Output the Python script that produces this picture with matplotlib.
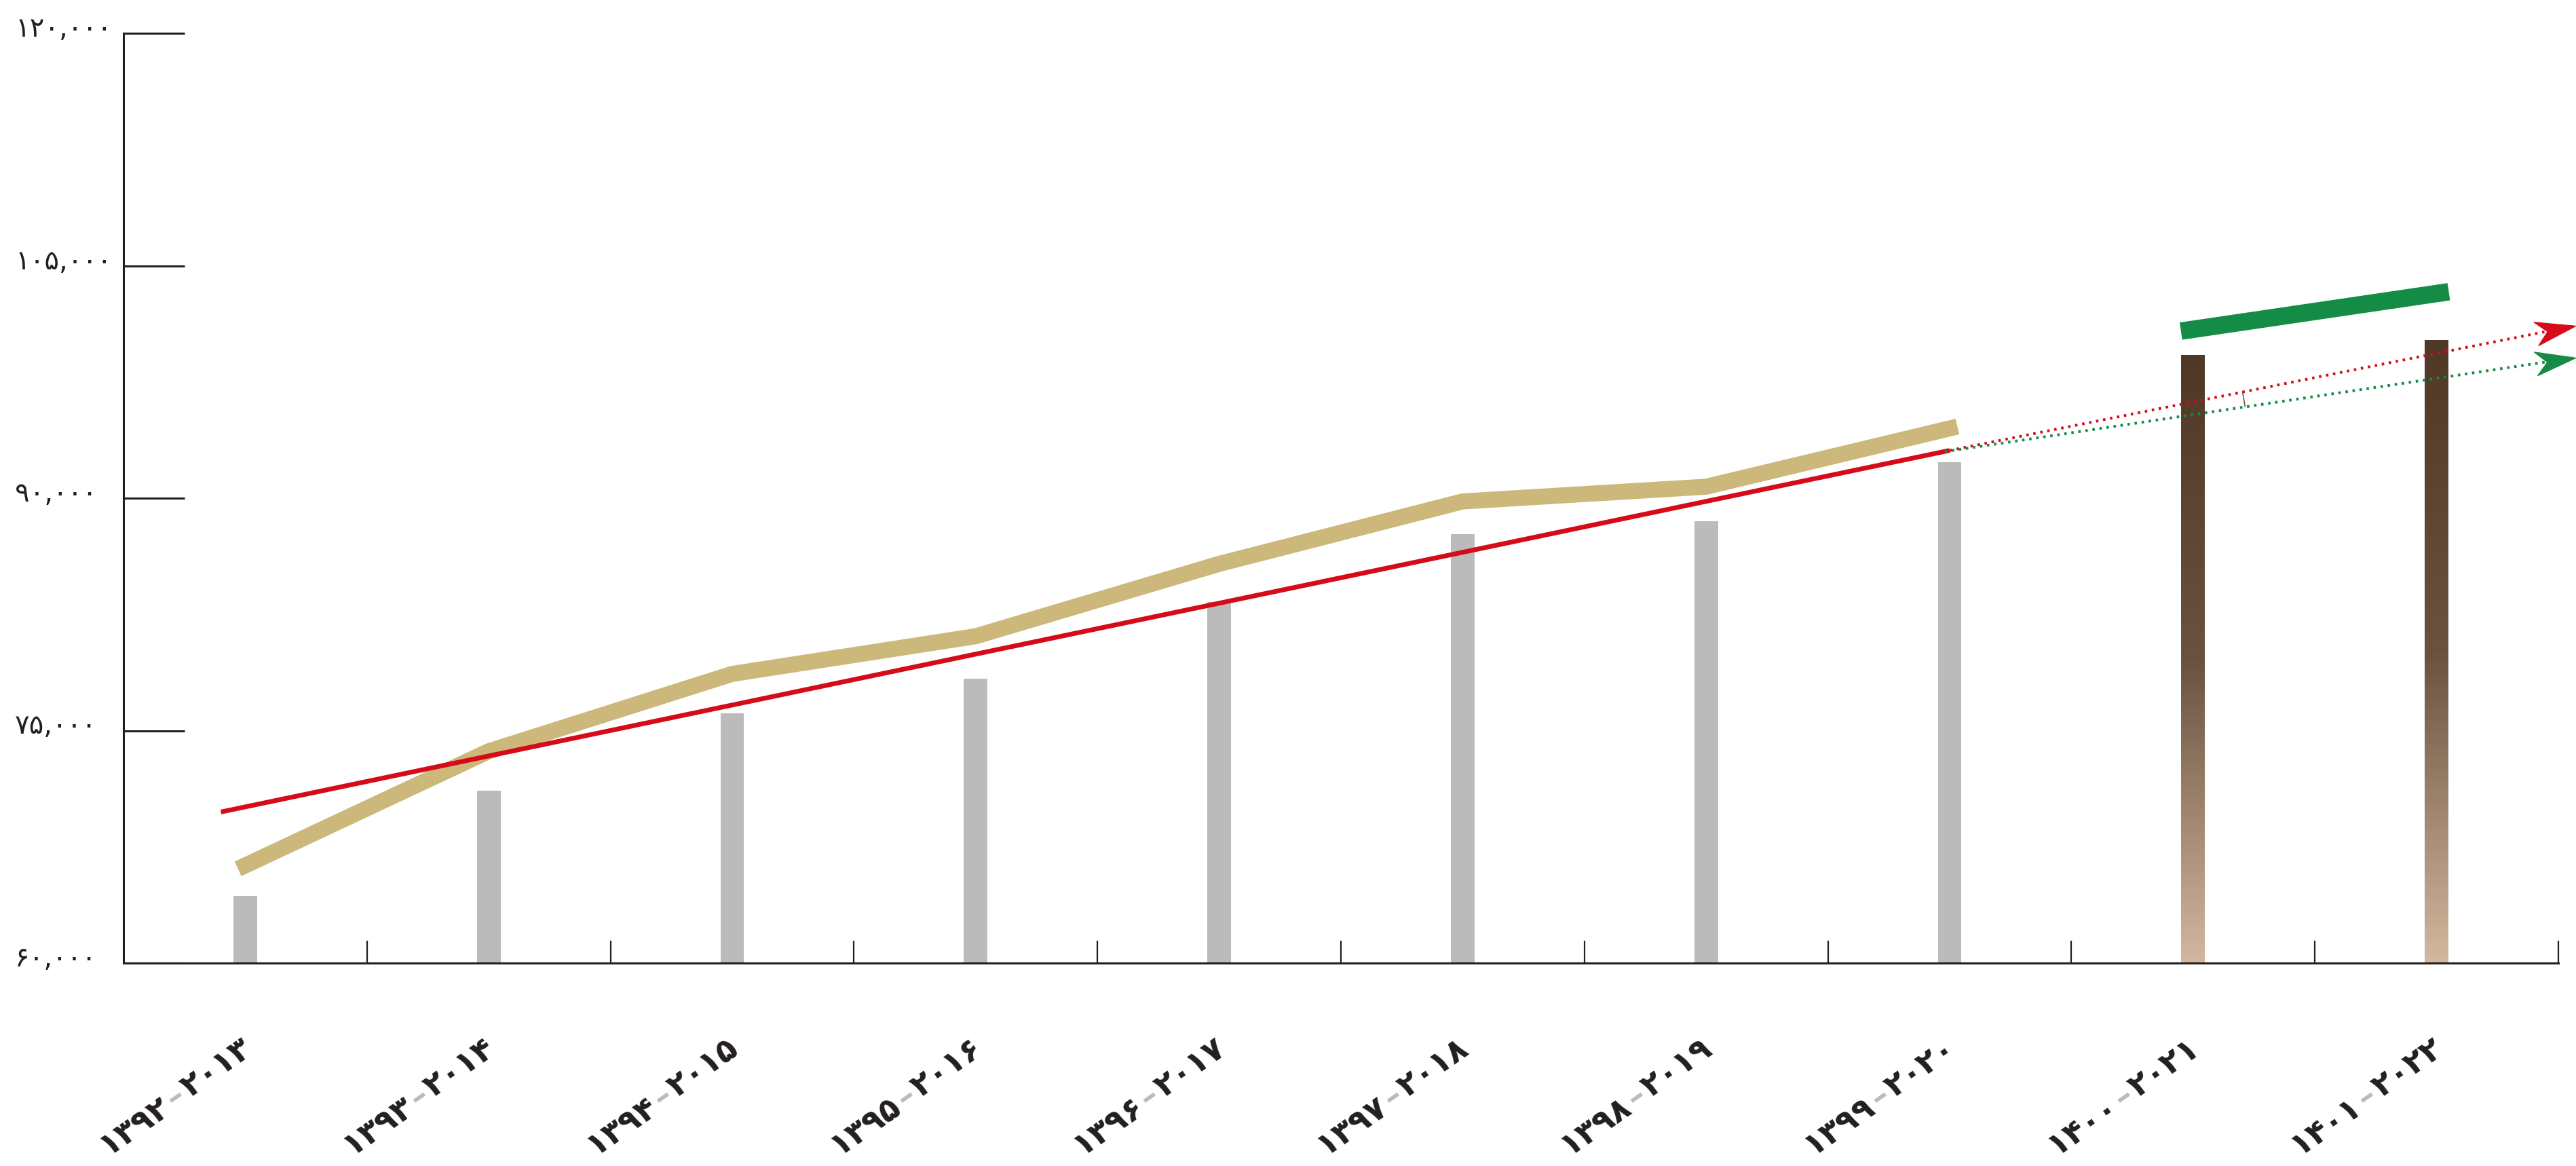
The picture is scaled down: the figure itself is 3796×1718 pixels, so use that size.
import numpy as np
import matplotlib
matplotlib.use('Agg')
import matplotlib.pyplot as plt
import matplotlib.transforms as mtransforms
from matplotlib.colors import LinearSegmentedColormap
from matplotlib.markers import MarkerStyle
from matplotlib.path import Path

plt.rcParams['font.family'] = ['DejaVu Sans']

# --- data ---
years_fa = ['۱۳۹۲', '۱۳۹۳', '۱۳۹۴', '۱۳۹۵', '۱۳۹۶', '۱۳۹۷', '۱۳۹۸', '۱۳۹۹', '۱۴۰۰', '۱۴۰۱']
years_en = ['۲۰۱۳', '۲۰۱۴', '۲۰۱۵', '۲۰۱۶', '۲۰۱۷', '۲۰۱۸', '۲۰۱۹', '۲۰۲۰', '۲۰۲۱', '۲۰۲۲']
actual = [64350, 71130, 76110, 78340, 83320, 87670, 88510, 92300]
forecast = [99200, 100200]
tan_line = [66300, 73670, 78660, 81090, 85760, 89790, 90740, 94500]
trend_x = [-0.1, 7.0]
trend_y = [69750, 93080]
red_proj_x = [7.0, 9.57]
red_proj_y = [93080, 101130]
green_proj_x = [6.98, 9.57]
green_proj_y = [93000, 99070]
band_x = [7.95, 9.05]
band_y = [100780, 103320]
yticks = [60000, 75000, 90000, 105000, 120000]
ytick_labels = ['۶۰,۰۰۰', '۷۵,۰۰۰', '۹۰,۰۰۰', '۱۰۵,۰۰۰', '۱۲۰,۰۰۰']

RED = '#d50b1a'
GREEN = '#148c45'
TAN = '#cbb87a'
GRAY = '#bbbbbb'
INK = '#231f20'

W, H = 3796, 1718
fig = plt.figure(figsize=(W / 100, H / 100), dpi=100)
ax = fig.add_axes([182 / W, 299 / H, 3588 / W, 1370 / H])

bar_w = 0.0975
x_act = np.arange(len(actual))
x_fc = np.arange(len(actual), len(actual) + len(forecast))

ax.bar(x_act, actual, width=bar_w, color=GRAY, zorder=2)

# forecast bars with vertical brown gradient
cmap = LinearSegmentedColormap.from_list('brown', ['#d3b79e', '#6a523f', '#4f3826'])
grad = np.linspace(0, 1, 256).reshape(-1, 1)
for xf, v in zip(x_fc, forecast):
    ax.imshow(grad, extent=[xf - bar_w / 2, xf + bar_w / 2, 60000, v], origin='lower',
              aspect='auto', cmap=cmap, zorder=2, interpolation='bilinear')

ax.plot(x_act, tan_line, color=TAN, lw=17, solid_capstyle='projecting', solid_joinstyle='miter', zorder=3)
ax.plot(trend_x, trend_y, color=RED, lw=5, solid_capstyle='butt', zorder=4)
ax.plot(band_x, band_y, color=GREEN, lw=18.5, solid_capstyle='butt', zorder=4)
ax.plot(red_proj_x, red_proj_y, color=RED, lw=2.9, ls=(0, (0.9, 1.7)), clip_on=False, zorder=5)
ax.plot(green_proj_x, green_proj_y, color=GREEN, lw=2.9, ls=(0, (0.9, 1.7)), clip_on=False, zorder=5)

ax.set_xlim(-0.5, 9.5)
ax.set_ylim(60000, 120000)

for s in ['top', 'right']:
    ax.spines[s].set_visible(False)
for s in ['left', 'bottom']:
    ax.spines[s].set_color(INK)
    ax.spines[s].set_linewidth(2.2)

ax.set_yticks(yticks)
ax.set_yticklabels(ytick_labels, fontsize=29, ha='left', va='baseline', color=INK)
ax.tick_params(axis='y', direction='in', length=65, width=2.2, pad=115, color=INK)
shift = mtransforms.ScaledTranslation(0, -5 / 100, fig.dpi_scale_trans)
for lab in ax.get_yticklabels():
    lab.set_transform(lab.get_transform() + shift)
ax.set_xticks(np.arange(10) + 0.5)
ax.set_xticklabels([])
ax.tick_params(axis='x', direction='in', length=24, width=1.6, color=INK)

# arrow heads (barbed) at the end of the projections
head = Path([(0, 0), (-59, 17.5), (-42, 0), (-59, -17.5), (0, 0)],
            [Path.MOVETO, Path.LINETO, Path.LINETO, Path.LINETO, Path.CLOSEPOLY])
for px, py, c in [(red_proj_x, red_proj_y, RED), (green_proj_x, green_proj_y, GREEN)]:
    p0 = ax.transData.transform((px[0], py[0]))
    p1 = ax.transData.transform((px[1], py[1]))
    ang = np.degrees(np.arctan2(p1[1] - p0[1], p1[0] - p0[0]))
    m = MarkerStyle(head, transform=mtransforms.Affine2D().rotate_deg(ang))
    ax.plot([px[1]], [py[1]], marker=m, markersize=2 * 59 * 0.72, color=c, lw=0,
            clip_on=False, zorder=6)

# small angle arc between the two projections
c0 = ax.transData.transform((red_proj_x[0], red_proj_y[0]))
angs = []
for px, py in [(green_proj_x, green_proj_y), (red_proj_x, red_proj_y)]:
    p1 = ax.transData.transform((px[1], py[1]))
    angs.append(np.arctan2(p1[1] - c0[1], p1[0] - c0[0]))
th = np.linspace(angs[0], angs[1], 30)
arc = np.column_stack([c0[0] + 440 * np.cos(th), c0[1] + 440 * np.sin(th)])
arc = ax.transData.inverted().transform(arc)
ax.plot(arc[:, 0], arc[:, 1], color='#7b5b3e', lw=1.2, zorder=5)

# rotated two-colour category labels
fig.canvas.draw()
renderer = fig.canvas.get_renderer()
ident = mtransforms.IdentityTransform()
FS = 34
ANG = 35


def text_width(s):
    t = ax.text(0, 0, s, fontsize=FS, fontweight='bold', transform=ident)
    w = t.get_window_extent(renderer).width
    t.remove()
    return w


gap = 4
dash_w = text_width('\u2013')
ca, sa = np.cos(np.radians(ANG)), np.sin(np.radians(ANG))
axis_y = ax.transData.transform((0, 60000))[1]
for i, (fa, en) in enumerate(zip(years_fa, years_en)):
    parts = [(fa, INK), ('\u2013', GRAY), (en, INK)]
    widths = [text_width(fa), dash_w, text_width(en)]
    total = sum(widths) + 2 * gap
    cx = ax.transData.transform((i, 60000))[0]
    ex = cx + 12
    ey = max(axis_y - 140, 16 + total * sa)
    sx, sy = ex - total * ca, ey - total * sa
    pos = 0.0
    for (s, col), w in zip(parts, widths):
        ax.text(sx + pos * ca, sy + pos * sa, s, fontsize=FS, fontweight='bold', color=col,
                rotation=ANG, rotation_mode='anchor', ha='left', va='baseline',
                transform=ident, clip_on=False)
        pos += w + gap

fig.savefig('out.png', dpi=100, facecolor='white')
